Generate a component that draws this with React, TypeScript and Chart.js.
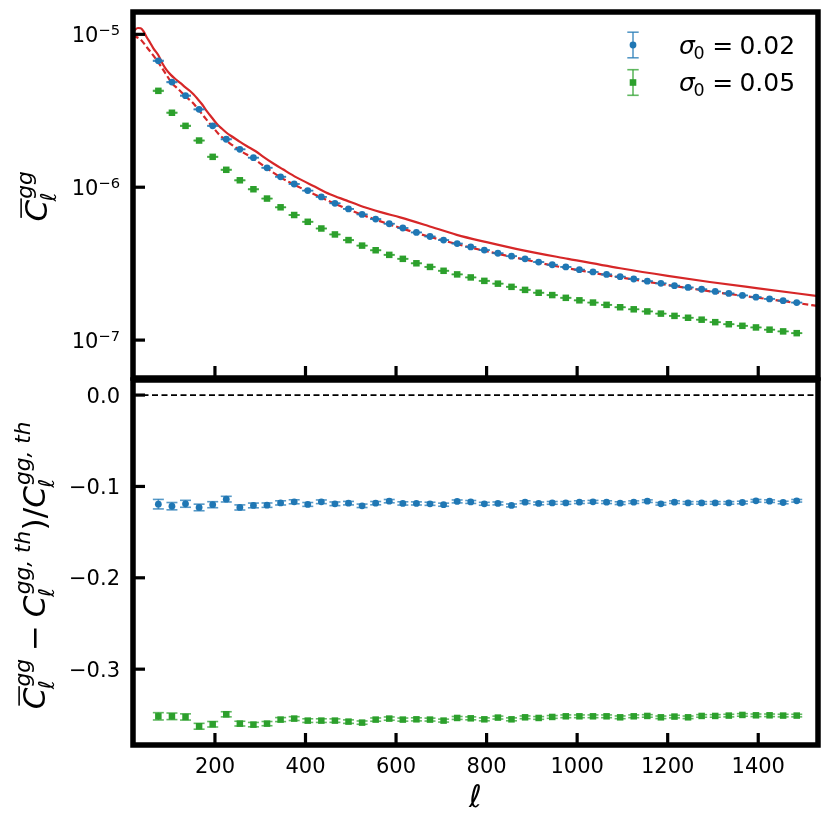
import { useEffect, useRef } from 'react';
import { Chart, registerables } from 'chart.js';

Chart.register(...registerables);

// multipole bin centres
const ELL = [
    75, 105, 135, 165, 195, 225, 255, 285, 315, 345, 375, 405, 435, 465, 495, 525,
    555, 585, 615, 645, 675, 705, 735, 765, 795, 825, 855, 885, 915, 945, 975, 1005,
    1035, 1065, 1095, 1125, 1155, 1185, 1215, 1245, 1275, 1305, 1335, 1365, 1395, 1425, 1455, 1485,
];

// measured C_ell^gg, sigma0 = 0.02
const BLUE_CL = [
    6.71e-6, 4.87e-6, 3.97e-6, 3.23e-6, 2.52e-6, 2.06e-6, 1.77e-6, 1.56e-6, 1.34e-6, 1.17e-6,
    1.05e-6, 9.50e-7, 8.64e-7, 7.85e-7, 7.21e-7, 6.64e-7, 6.19e-7, 5.77e-7, 5.41e-7, 5.06e-7,
    4.76e-7, 4.51e-7, 4.28e-7, 4.07e-7, 3.88e-7, 3.70e-7, 3.54e-7, 3.40e-7, 3.24e-7, 3.11e-7,
    3.01e-7, 2.89e-7, 2.79e-7, 2.69e-7, 2.60e-7, 2.51e-7, 2.43e-7, 2.35e-7, 2.27e-7, 2.21e-7,
    2.15e-7, 2.08e-7, 2.02e-7, 1.96e-7, 1.91e-7, 1.86e-7, 1.81e-7, 1.76e-7,
];
// measured C_ell^gg, sigma0 = 0.05
const GREEN_CL = [
    4.27e-6, 3.07e-6, 2.52e-6, 2.02e-6, 1.58e-6, 1.30e-6, 1.11e-6, 9.70e-7, 8.43e-7, 7.39e-7,
    6.58e-7, 5.94e-7, 5.37e-7, 4.91e-7, 4.51e-7, 4.15e-7, 3.87e-7, 3.61e-7, 3.40e-7, 3.18e-7,
    3.01e-7, 2.84e-7, 2.69e-7, 2.57e-7, 2.44e-7, 2.34e-7, 2.23e-7, 2.13e-7, 2.04e-7, 1.97e-7,
    1.89e-7, 1.82e-7, 1.76e-7, 1.70e-7, 1.64e-7, 1.59e-7, 1.54e-7, 1.49e-7, 1.44e-7, 1.40e-7,
    1.36e-7, 1.31e-7, 1.27e-7, 1.24e-7, 1.21e-7, 1.17e-7, 1.14e-7, 1.11e-7,
];
// fractional errors on the top panel points
const BLUE_CL_ERR = [
    0.006, 0.005, 0.005, 0.004, 0.004, 0.004, 0.003, 0.003, 0.003, 0.003,
    0.003, 0.002, 0.002, 0.002, 0.002, 0.002, 0.002, 0.002, 0.002, 0.002,
    0.002, 0.002, 0.002, 0.002, 0.002, 0.002, 0.002, 0.002, 0.002, 0.002,
    0.002, 0.002, 0.002, 0.002, 0.002, 0.002, 0.002, 0.002, 0.002, 0.002,
    0.002, 0.002, 0.002, 0.002, 0.002, 0.002, 0.002, 0.002,
];
const GREEN_CL_ERR = [
    0.006, 0.005, 0.005, 0.005, 0.004, 0.004, 0.004, 0.004, 0.003, 0.003,
    0.003, 0.003, 0.003, 0.003, 0.003, 0.003, 0.003, 0.003, 0.003, 0.003,
    0.003, 0.003, 0.003, 0.003, 0.003, 0.003, 0.003, 0.003, 0.003, 0.003,
    0.003, 0.003, 0.002, 0.002, 0.002, 0.002, 0.002, 0.002, 0.002, 0.002,
    0.002, 0.002, 0.002, 0.002, 0.002, 0.002, 0.002, 0.002,
];

// theory, solid line
const SOLID_ELL = [
    19, 23, 30, 36, 42, 49, 56, 64, 75, 84, 93, 102, 112, 124, 134, 145, 152, 161, 171, 182,
    193, 204, 215, 225, 235, 250, 270, 290, 307, 329, 350, 380, 420, 454, 490, 527, 570, 609,
    670, 734, 800, 881, 980, 1095, 1200, 1293, 1400, 1532,
];
const SOLID_CL = [
    1.04e-5, 1.07e-5, 1.10e-5, 1.095e-5, 1.05e-5, 9.6e-6, 8.9e-6, 8.1e-6, 7.3e-6, 6.45e-6,
    5.85e-6, 5.45e-6, 5.12e-6, 4.8e-6, 4.52e-6, 4.26e-6, 4.07e-6, 3.8e-6, 3.5e-6, 3.15e-6,
    2.86e-6, 2.6e-6, 2.42e-6, 2.28e-6, 2.17e-6, 2.03e-6, 1.86e-6, 1.72e-6, 1.58e-6, 1.43e-6,
    1.31e-6, 1.16e-6, 1.01e-6, 9.0e-7, 8.2e-7, 7.45e-7, 6.82e-7, 6.35e-7,
    5.6e-7, 4.88e-7, 4.37e-7, 3.86e-7, 3.4e-7, 2.95e-7, 2.63e-7, 2.40e-7, 2.18e-7, 1.94e-7,
];
// theory, dashed line
const DASHED_ELL = [
    19, 35, 50, 62, 75, 90, 105, 120, 135, 150, 165, 180, 195, 210, 225, 255, 285, 315, 345,
    375, 405, 435, 465, 495, 525, 555, 585, 645, 705, 765, 825, 885, 945, 1005, 1065, 1125,
    1185, 1245, 1305, 1365, 1425, 1485, 1532,
];
const DASHED_CL = [
    9.8e-6, 9.3e-6, 8.2e-6, 7.4e-6, 6.55e-6, 5.6e-6, 4.8e-6, 4.35e-6, 3.93e-6, 3.6e-6,
    3.18e-6, 2.8e-6, 2.48e-6, 2.2e-6, 2.02e-6, 1.74e-6, 1.54e-6, 1.33e-6, 1.16e-6,
    1.04e-6, 9.4e-7, 8.55e-7, 7.8e-7, 7.15e-7, 6.6e-7, 6.13e-7, 5.72e-7, 5.02e-7, 4.48e-7,
    4.03e-7, 3.67e-7, 3.36e-7, 3.08e-7, 2.86e-7, 2.66e-7, 2.49e-7,
    2.33e-7, 2.19e-7, 2.06e-7, 1.95e-7, 1.85e-7, 1.75e-7, 1.67e-7,
];

// relative difference to theory
const BLUE_RES = [
    -0.1194, -0.1216, -0.1190, -0.1230, -0.1200, -0.1139, -0.1230, -0.1208, -0.1205, -0.1180,
    -0.1168, -0.1197, -0.1168, -0.1190, -0.1183, -0.1212, -0.1183, -0.1161, -0.1186, -0.1186,
    -0.1190, -0.1200, -0.1164, -0.1170, -0.1190, -0.1186, -0.1208, -0.1172, -0.1186, -0.1180,
    -0.1180, -0.1172, -0.1168, -0.1172, -0.1183, -0.1172, -0.1161, -0.1190, -0.1172, -0.1180,
    -0.1180, -0.1180, -0.1180, -0.1176, -0.1157, -0.1161, -0.1176, -0.1157,
];
const BLUE_RES_ERR = [
    0.0052, 0.0040, 0.0038, 0.0036, 0.0033, 0.0031, 0.0028, 0.0026, 0.0024, 0.0023,
    0.0022, 0.0021, 0.0020, 0.0020, 0.0019, 0.0019, 0.0018, 0.0018, 0.0018, 0.0017,
    0.0017, 0.0017, 0.0016, 0.0016, 0.0016, 0.0016, 0.0016, 0.0015, 0.0015, 0.0015,
    0.0015, 0.0015, 0.0015, 0.0015, 0.0015, 0.0014, 0.0014, 0.0014, 0.0014, 0.0014,
    0.0014, 0.0014, 0.0014, 0.0014, 0.0014, 0.0014, 0.0014, 0.0014,
];
const GREEN_RES = [
    -0.3516, -0.3516, -0.3523, -0.3625, -0.3603, -0.3494, -0.3596, -0.3607, -0.3596, -0.3552,
    -0.3541, -0.3563, -0.3563, -0.3563, -0.3574, -0.3585, -0.3552, -0.3541, -0.3552, -0.3549,
    -0.3552, -0.3563, -0.3534, -0.3538, -0.3549, -0.3530, -0.3549, -0.3527, -0.3534, -0.3523,
    -0.3516, -0.3516, -0.3516, -0.3516, -0.3527, -0.3516, -0.3512, -0.3527, -0.3519, -0.3527,
    -0.3512, -0.3512, -0.3508, -0.3501, -0.3505, -0.3505, -0.3508, -0.3508,
];
const GREEN_RES_ERR = [
    0.0040, 0.0036, 0.0034, 0.0032, 0.0030, 0.0028, 0.0026, 0.0024, 0.0023, 0.0022,
    0.0021, 0.0020, 0.0020, 0.0019, 0.0019, 0.0018, 0.0018, 0.0018, 0.0017, 0.0017,
    0.0016, 0.0016, 0.0016, 0.0016, 0.0016, 0.0016, 0.0016, 0.0015, 0.0015, 0.0015,
    0.0015, 0.0015, 0.0015, 0.0015, 0.0015, 0.0015, 0.0014, 0.0014, 0.0014, 0.0014,
    0.0014, 0.0014, 0.0014, 0.0014, 0.0014, 0.0014, 0.0014, 0.0014,
];

const X_MIN = 19;
const X_MAX = 1532;
const X_TICKS = [200, 400, 600, 800, 1000, 1200, 1400];
const TOP_Y_MIN = 5.65e-8;
const TOP_Y_MAX = 1.4e-5;
const TOP_Y_TICKS = [1e-7, 1e-6, 1e-5];
const BOT_Y_MIN = -0.383;
const BOT_Y_MAX = 0.0165;
const BOT_Y_TICKS = [-0.3, -0.2, -0.1, 0.0];
const ZERO_LINE = [0, 0];

const LEGEND_LABELS = ['0.02', '0.05'];

const BLUE = '#1f77b4';
const GREEN = '#2ca02c';
const RED = '#d62728';
const BLUE_ERR = 'rgba(31,119,180,0.75)';
const GREEN_ERR = 'rgba(44,160,44,0.75)';

const TICK_FONT = 21;
const LABEL_FONT = 31;
const BOT_TOP = 370; // page offset of lower canvas

const font = (size: number, italic = false) => `${italic ? 'italic ' : ''}${size}px "DejaVu Sans"`;

type Atom = { b: string; it?: boolean; bar?: boolean; sup?: string; sub?: string; sit?: boolean; pre?: number; post?: number };

function scriptWidth(ctx: CanvasRenderingContext2D, a: Atom, size: number) {
    const ss = size * 0.7;
    let w = 0;
    ctx.font = font(ss, a.sit !== false);
    if (a.sup) w = Math.max(w, ctx.measureText(a.sup).width);
    if (a.sub) w = Math.max(w, ctx.measureText(a.sub).width);
    return w;
}

function atomsWidth(ctx: CanvasRenderingContext2D, atoms: Atom[], size: number) {
    let w = 0;
    atoms.forEach(a => {
        ctx.font = font(size, a.it);
        w += (a.pre ?? 0) * size + ctx.measureText(a.b).width + scriptWidth(ctx, a, size) + (a.post ?? 0) * size;
    });
    return w;
}

function drawAtoms(ctx: CanvasRenderingContext2D, atoms: Atom[], size: number, x: number, y: number) {
    let cx = x;
    const ss = size * 0.7;
    ctx.textBaseline = 'alphabetic';
    ctx.textAlign = 'left';
    atoms.forEach(a => {
        cx += (a.pre ?? 0) * size;
        ctx.font = font(size, a.it);
        const bw = ctx.measureText(a.b).width;
        ctx.fillText(a.b, cx, y);
        if (a.bar) ctx.fillRect(cx + size * 0.12, y - size * 0.86, bw * 0.9, size * 0.05);
        cx += bw;
        const sw = scriptWidth(ctx, a, size);
        ctx.font = font(ss, a.sit !== false);
        if (a.sup) ctx.fillText(a.sup, cx + (a.it ? size * 0.04 : 0), y - size * (a.sub ? 0.5 : 0.42));
        if (a.sub) ctx.fillText(a.sub, cx - (a.it ? size * 0.05 : 0), y + size * (a.sup ? 0.3 : 0.2));
        cx += sw + (a.post ?? 0) * size;
    });
}

function drawVertical(ctx: CanvasRenderingContext2D, atoms: Atom[], size: number, x: number, cy: number) {
    const w = atomsWidth(ctx, atoms, size);
    ctx.save();
    ctx.translate(x, cy);
    ctx.rotate(-Math.PI / 2);
    drawAtoms(ctx, atoms, size, -w / 2, 0);
    ctx.restore();
}

function segment(ctx: CanvasRenderingContext2D, x1: number, y1: number, x2: number, y2: number) {
    ctx.beginPath();
    ctx.moveTo(x1, y1);
    ctx.lineTo(x2, y2);
    ctx.stroke();
}

function errorBar(ctx: CanvasRenderingContext2D, x: number, yTop: number, yBot: number, cap: number) {
    segment(ctx, x, yTop, x, yBot);
    segment(ctx, x - cap, yTop, x + cap, yTop);
    segment(ctx, x - cap, yBot, x + cap, yBot);
}

// draws vertical error bars under the markers of datasets that carry `errors`
const errorBarPlugin = {
    id: 'errorBars',
    beforeDatasetDraw(chart: any, args: any) {
        const ds = chart.data.datasets[args.index];
        if (!ds.errors) return;
        const { ctx } = chart;
        const yScale = chart.scales.y;
        ctx.save();
        ctx.strokeStyle = ds.errColor;
        ctx.lineWidth = 1.6;
        args.meta.data.forEach((pt: any, i: number) => {
            const v = ds.data[i].y;
            const e = ds.errors[i];
            errorBar(ctx, pt.x, yScale.getPixelForValue(v + e), yScale.getPixelForValue(v - e), 5.5);
        });
        ctx.restore();
    },
};

function drawFrame(chart: any, yTicks: number[]) {
    const { ctx, chartArea: a, scales } = chart;
    ctx.save();
    ctx.strokeStyle = '#000';
    ctx.lineWidth = 3.2;
    yTicks.forEach(v => {
        const y = scales.y.getPixelForValue(v);
        segment(ctx, a.left, y, a.left + 12, y);
    });
    X_TICKS.forEach(v => {
        const x = scales.x.getPixelForValue(v);
        segment(ctx, x, a.bottom, x, a.bottom - 12);
    });
    ctx.lineWidth = 5.5;
    ctx.strokeRect(a.left, a.top, a.right - a.left, a.bottom - a.top);
    ctx.restore();
}

const topFramePlugin = {
    id: 'topFrame',
    afterDraw(chart: any) {
        const { ctx, scales } = chart;
        drawFrame(chart, TOP_Y_TICKS);
        ctx.save();
        ctx.fillStyle = '#000';
        // y tick labels 10^n
        TOP_Y_TICKS.forEach(v => {
            const y = scales.y.getPixelForValue(v);
            const exp = `\u2212${Math.abs(Math.round(Math.log10(v)))}`;
            ctx.font = font(TICK_FONT);
            const w1 = ctx.measureText('10').width;
            ctx.font = font(TICK_FONT * 0.7);
            const w2 = ctx.measureText(exp).width;
            const x0 = 120 - w1 - w2;
            ctx.textAlign = 'left';
            ctx.textBaseline = 'alphabetic';
            ctx.font = font(TICK_FONT);
            ctx.fillText('10', x0, y + 7.6);
            ctx.font = font(TICK_FONT * 0.7);
            ctx.fillText(exp, x0 + w1, y + 0.6);
        });
        // y axis title
        drawVertical(ctx, [{ b: 'C', it: true, bar: true, sup: 'gg', sub: '\u2113' }], LABEL_FONT, 47, 197);
        // legend
        const rows = [
            { color: BLUE, err: BLUE_ERR, y: 45, square: false },
            { color: GREEN, err: GREEN_ERR, y: 82.5, square: true },
        ];
        rows.forEach((r, i) => {
            ctx.strokeStyle = r.err;
            ctx.lineWidth = 1.6;
            errorBar(ctx, 633, r.y - 12.8, r.y + 12.8, 5.7);
            ctx.fillStyle = r.color;
            if (r.square) ctx.fillRect(633 - 3.3, r.y - 3.3, 6.6, 6.6);
            else {
                ctx.beginPath();
                ctx.arc(633, r.y, 3.4, 0, Math.PI * 2);
                ctx.fill();
            }
            ctx.fillStyle = '#000';
            drawAtoms(ctx, [
                { b: '\u03c3', it: true, sub: '0', sit: false },
                { b: '=', pre: 0.25, post: 0.25 },
                { b: LEGEND_LABELS[i] },
            ], 25, 679, r.y + 8.8);
        });
        ctx.restore();
    },
};

const bottomFramePlugin = {
    id: 'bottomFrame',
    afterDraw(chart: any) {
        const { ctx, scales } = chart;
        drawFrame(chart, BOT_Y_TICKS);
        ctx.save();
        ctx.fillStyle = '#000';
        ctx.font = font(TICK_FONT);
        ctx.textBaseline = 'alphabetic';
        ctx.textAlign = 'right';
        BOT_Y_TICKS.forEach(v => {
            const y = scales.y.getPixelForValue(v);
            const txt = v === 0 ? '0.0' : `\u2212${Math.abs(v).toFixed(1)}`;
            ctx.fillText(txt, 120, y + 7.6);
        });
        ctx.textAlign = 'center';
        X_TICKS.forEach(v => {
            const x = scales.x.getPixelForValue(v);
            ctx.fillText(String(v), x, 772.5 - BOT_TOP);
        });
        // x axis title
        ctx.font = font(LABEL_FONT, true);
        ctx.fillText('\u2113', (chart.chartArea.left + chart.chartArea.right) / 2, 807 - BOT_TOP);
        // y axis title
        drawVertical(ctx, [
            { b: 'C', it: true, bar: true, sup: 'gg', sub: '\u2113', post: 0.05 },
            { b: '\u2212', pre: 0.25, post: 0.25 },
            { b: 'C', it: true, sup: 'gg, th', sub: '\u2113', post: 0.05 },
            { b: ')' },
            { b: '/' },
            { b: 'C', it: true, sup: 'gg, th', sub: '\u2113' },
        ], LABEL_FONT, 45, 566 - BOT_TOP);
        ctx.restore();
    },
};

const points = (xs: number[], ys: number[]) => xs.map((x, i) => ({ x, y: ys[i] }));

export default function App() {
    const topRef = useRef<HTMLCanvasElement>(null);
    const botRef = useRef<HTMLCanvasElement>(null);

    useEffect(() => {
        if (!topRef.current || !botRef.current) return;

        const markerBase = { showLine: false, pointBorderWidth: 0, pointHoverRadius: 0 };
        const lineBase = { showLine: true, pointRadius: 0, borderWidth: 2.2, fill: false, cubicInterpolationMode: 'monotone' };

        const top = new Chart(topRef.current, {
            type: 'scatter',
            data: {
                datasets: [
                    {
                        ...markerBase,
                        data: points(ELL, BLUE_CL),
                        errors: BLUE_CL.map((v, i) => v * BLUE_CL_ERR[i]),
                        errColor: BLUE_ERR,
                        pointStyle: 'circle',
                        pointRadius: 3.4,
                        backgroundColor: BLUE,
                    },
                    {
                        ...markerBase,
                        data: points(ELL, GREEN_CL),
                        errors: GREEN_CL.map((v, i) => v * GREEN_CL_ERR[i]),
                        errColor: GREEN_ERR,
                        pointStyle: 'rect',
                        pointRadius: 4.6,
                        backgroundColor: GREEN,
                    },
                    { ...lineBase, data: points(DASHED_ELL, DASHED_CL), borderColor: RED, borderDash: [6, 3] },
                    { ...lineBase, data: points(SOLID_ELL, SOLID_CL), borderColor: RED },
                ] as any,
            },
            options: {
                animation: false,
                responsive: false,
                events: [],
                layout: { padding: { left: 133, right: 12, top: 12, bottom: 12 } },
                scales: {
                    x: { type: 'linear', min: X_MIN, max: X_MAX, display: false },
                    y: { type: 'logarithmic', min: TOP_Y_MIN, max: TOP_Y_MAX, display: false },
                },
                plugins: { legend: { display: false }, tooltip: { enabled: false } },
            },
            plugins: [errorBarPlugin, topFramePlugin],
        });

        const bottom = new Chart(botRef.current, {
            type: 'scatter',
            data: {
                datasets: [
                    {
                        ...markerBase,
                        data: points(ELL, BLUE_RES),
                        errors: BLUE_RES_ERR,
                        errColor: BLUE_ERR,
                        pointStyle: 'circle',
                        pointRadius: 3.4,
                        backgroundColor: BLUE,
                    },
                    {
                        ...markerBase,
                        data: points(ELL, GREEN_RES),
                        errors: GREEN_RES_ERR,
                        errColor: GREEN_ERR,
                        pointStyle: 'rect',
                        pointRadius: 4.6,
                        backgroundColor: GREEN,
                    },
                    {
                        showLine: true,
                        pointRadius: 0,
                        data: points([X_MIN, X_MAX], ZERO_LINE),
                        borderColor: '#000',
                        borderWidth: 1.6,
                        borderDash: [6, 3.5],
                    },
                ] as any,
            },
            options: {
                animation: false,
                responsive: false,
                events: [],
                layout: { padding: { left: 133, right: 12, top: 10, bottom: 85 } },
                scales: {
                    x: { type: 'linear', min: X_MIN, max: X_MAX, display: false },
                    y: { type: 'linear', min: BOT_Y_MIN, max: BOT_Y_MAX, display: false },
                },
                plugins: { legend: { display: false }, tooltip: { enabled: false } },
            },
            plugins: [errorBarPlugin, bottomFramePlugin],
        });

        return () => {
            top.destroy();
            bottom.destroy();
        };
    }, []);

    return (
        <div style={{ position: 'absolute', left: 0, top: 0, width: 830, height: 830, background: '#fff' }}>
            <canvas ref={botRef} width={830} height={460} style={{ position: 'absolute', left: 0, top: BOT_TOP, width: 830, height: 460 }} />
            <canvas ref={topRef} width={830} height={390} style={{ position: 'absolute', left: 0, top: 0, width: 830, height: 390 }} />
        </div>
    );
}
